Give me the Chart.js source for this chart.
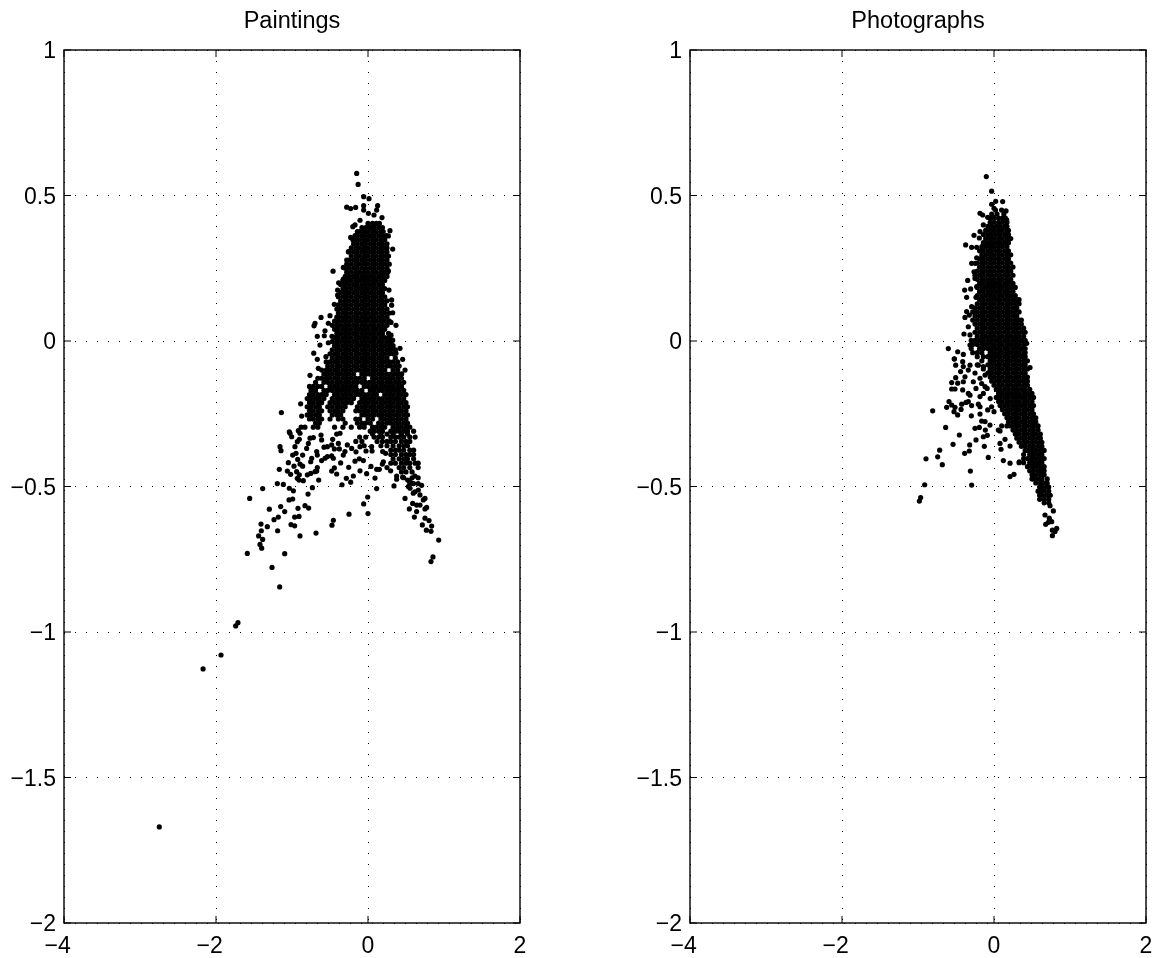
<!DOCTYPE html>
<html>

<head>
    <title>Paintings and Photographs</title>
    <meta charset="utf-8">
    <script src="https://cdnjs.cloudflare.com/ajax/libs/Chart.js/4.4.1/chart.umd.js"></script>
    <style>
        html, body { margin: 0; background: #fff; overflow: hidden; }
        canvas { position: absolute; top: 0; }
        #paintings { left: 0; }
        #photographs { left: 626px; }
    </style>
</head>

<body>
    <canvas id="paintings" width="579" height="958"></canvas>
    <canvas id="photographs" width="572" height="958"></canvas>
</body>
<script>
    const xTicks = ['\u22124  ', '\u22122  ', '0', '2'];
    const yTicks = ['\u22122', '\u22121.5', '\u22121', '\u22120.5', '0', '0.5', '1'];

    // paintings: the solid part, read row by row
    const paintingsCoreY = [0.404, 0.39, 0.376, 0.362, 0.348, 0.334, 0.32, 0.306, 0.292, 0.278, 0.264, 0.25, 0.236, 0.222, 0.208, 0.194, 0.18, 0.166, 0.152, 0.138, 0.124, 0.11, 0.096, 0.082, 0.068, 0.054, 0.04, 0.026, 0.012, -0.002, -0.016, -0.03, -0.044, -0.058, -0.072, -0.086, -0.1, -0.114, -0.128, -0.142, -0.156, -0.17, -0.184, -0.198, -0.212, -0.226, -0.24, -0.254, -0.268, -0.282, -0.296, -0.31, -0.32, -0.33, -0.345, -0.36, -0.375, -0.39, -0.405, -0.42, -0.435, -0.45, -0.47, -0.49];
    const paintingsCoreX = [
        [0, 0.06, 0.11, 0.15],
        [-0.08, -0.03, 0.03, 0.08, 0.14, 0.19],
        [-0.14, -0.11, -0.05, 0, 0.06, 0.11, 0.17, 0.2],
        [-0.17, -0.14, -0.08, -0.03, 0.03, 0.08, 0.14, 0.19, 0.24],
        [-0.2, -0.16, -0.11, -0.05, 0, 0.06, 0.11, 0.17, 0.22],
        [-0.19, -0.14, -0.08, -0.03, 0.03, 0.08, 0.14, 0.19, 0.25],
        [-0.22, -0.16, -0.11, -0.05, 0, 0.06, 0.11, 0.17, 0.22, 0.25],
        [-0.25, -0.19, -0.14, -0.08, -0.03, 0.03, 0.08, 0.14, 0.19, 0.25],
        [-0.22, -0.16, -0.11, -0.05, 0, 0.06, 0.11, 0.17, 0.22, 0.27],
        [-0.25, -0.19, -0.14, -0.08, -0.03, 0.03, 0.08, 0.14, 0.19, 0.25],
        [-0.28, -0.22, -0.16, -0.11, -0.05, 0, 0.06, 0.11, 0.17, 0.22, 0.28],
        [-0.3, -0.25, -0.19, -0.14, -0.08, -0.03, 0.03, 0.08, 0.14, 0.19, 0.25],
        [-0.28, -0.22, -0.16, -0.11, -0.05, 0, 0.06, 0.11, 0.17, 0.22, 0.26],
        [-0.3, -0.25, -0.19, -0.14, -0.08, -0.03, 0.03, 0.08, 0.14, 0.19, 0.25],
        [-0.33, -0.28, -0.22, -0.16, -0.11, -0.05, 0, 0.06, 0.11, 0.17, 0.22],
        [-0.36, -0.3, -0.25, -0.19, -0.14, -0.08, -0.03, 0.03, 0.08, 0.14, 0.19],
        [-0.33, -0.28, -0.22, -0.16, -0.11, -0.05, 0, 0.06, 0.11, 0.17, 0.22],
        [-0.36, -0.3, -0.25, -0.19, -0.14, -0.08, -0.03, 0.03, 0.08, 0.14, 0.19],
        [-0.39, -0.33, -0.28, -0.22, -0.16, -0.11, -0.05, 0, 0.06, 0.11, 0.17, 0.22],
        [-0.36, -0.3, -0.25, -0.19, -0.14, -0.08, -0.03, 0.03, 0.08, 0.14, 0.19, 0.25],
        [-0.39, -0.33, -0.28, -0.22, -0.16, -0.11, -0.05, 0, 0.06, 0.11, 0.17, 0.22],
        [-0.41, -0.36, -0.3, -0.25, -0.19, -0.14, -0.08, -0.03, 0.03, 0.08, 0.14, 0.19, 0.25],
        [-0.39, -0.33, -0.28, -0.22, -0.16, -0.11, -0.05, 0, 0.06, 0.11, 0.17, 0.22, 0.28],
        [-0.41, -0.36, -0.3, -0.25, -0.19, -0.14, -0.08, -0.03, 0.03, 0.08, 0.14, 0.19, 0.25],
        [-0.44, -0.39, -0.33, -0.28, -0.22, -0.16, -0.11, -0.05, 0, 0.06, 0.11, 0.17, 0.22, 0.28],
        [-0.47, -0.41, -0.36, -0.3, -0.25, -0.19, -0.14, -0.08, -0.03, 0.03, 0.08, 0.14, 0.19, 0.25],
        [-0.44, -0.39, -0.33, -0.28, -0.22, -0.16, -0.11, -0.05, 0, 0.06, 0.11, 0.17, 0.22],
        [-0.41, -0.36, -0.3, -0.25, -0.19, -0.14, -0.08, -0.03, 0.03, 0.08, 0.14, 0.19, 0.27],
        [-0.44, -0.39, -0.33, -0.28, -0.22, -0.16, -0.11, -0.05, 0, 0.06, 0.11, 0.17, 0.22, 0.28],
        [-0.47, -0.41, -0.36, -0.3, -0.25, -0.19, -0.14, -0.08, -0.03, 0.03, 0.08, 0.14, 0.19, 0.25, 0.3],
        [-0.44, -0.39, -0.33, -0.28, -0.22, -0.16, -0.11, -0.05, 0, 0.06, 0.11, 0.17, 0.22, 0.28, 0.33],
        [-0.47, -0.41, -0.36, -0.3, -0.25, -0.19, -0.14, -0.08, -0.03, 0.03, 0.08, 0.14, 0.19, 0.25, 0.3, 0.36],
        [-0.5, -0.44, -0.39, -0.33, -0.28, -0.22, -0.16, -0.11, -0.05, 0, 0.06, 0.11, 0.17, 0.22, 0.28, 0.33],
        [-0.47, -0.41, -0.36, -0.3, -0.25, -0.19, -0.14, -0.08, -0.03, 0.03, 0.08, 0.14, 0.19, 0.25, 0.36],
        [-0.55, -0.5, -0.44, -0.39, -0.33, -0.28, -0.22, -0.16, -0.11, -0.05, 0, 0.06, 0.11, 0.17, 0.22, 0.28, 0.33, 0.39],
        [-0.53, -0.47, -0.41, -0.36, -0.3, -0.25, -0.19, -0.14, -0.08, -0.03, 0.03, 0.08, 0.14, 0.19, 0.25, 0.3, 0.36, 0.41],
        [-0.61, -0.55, -0.5, -0.44, -0.39, -0.33, -0.28, -0.22, -0.16, -0.11, -0.05, 0, 0.06, 0.11, 0.17, 0.22, 0.33, 0.39],
        [-0.58, -0.53, -0.47, -0.41, -0.36, -0.3, -0.25, -0.19, -0.08, -0.03, 0.03, 0.08, 0.14, 0.19, 0.25, 0.3, 0.36, 0.41],
        [-0.66, -0.61, -0.55, -0.5, -0.44, -0.39, -0.33, -0.28, -0.22, -0.16, -0.11, -0.05, 0.06, 0.11, 0.17, 0.22, 0.28, 0.33, 0.39, 0.44],
        [-0.69, -0.58, -0.53, -0.47, -0.41, -0.36, -0.3, -0.25, -0.19, -0.14, -0.08, -0.03, 0.03, 0.08, 0.14, 0.19, 0.25, 0.3, 0.36, 0.41, 0.47],
        [-0.77, -0.72, -0.66, -0.61, -0.5, -0.44, -0.39, -0.33, -0.28, -0.22, -0.16, -0.05, 0, 0.06, 0.11, 0.17, 0.22, 0.28, 0.33, 0.39, 0.44],
        [-0.75, -0.69, -0.58, -0.53, -0.47, -0.41, -0.36, -0.3, -0.25, -0.19, -0.14, -0.08, 0.03, 0.08, 0.14, 0.19, 0.25, 0.3, 0.36, 0.41, 0.47],
        [-0.77, -0.72, -0.66, -0.61, -0.55, -0.44, -0.39, -0.33, -0.28, -0.22, -0.16, -0.11, -0.05, 0, 0.06, 0.11, 0.22, 0.28, 0.33, 0.39, 0.44, 0.5],
        [-0.8, -0.75, -0.69, -0.64, -0.58, -0.47, -0.41, -0.36, -0.3, -0.25, -0.19, -0.08, -0.03, 0.03, 0.08, 0.14, 0.19, 0.25, 0.3, 0.36, 0.41, 0.47],
        [-0.77, -0.72, -0.66, -0.61, -0.5, -0.44, -0.39, -0.33, -0.28, -0.22, -0.11, -0.05, 0, 0.06, 0.11, 0.17, 0.22, 0.28, 0.33, 0.39, 0.44, 0.5],
        [-0.8, -0.75, -0.69, -0.64, -0.53, -0.47, -0.41, -0.36, -0.3, -0.14, -0.08, -0.03, 0.03, 0.08, 0.14, 0.19, 0.25, 0.3, 0.36, 0.41, 0.47, 0.52],
        [-0.77, -0.72, -0.66, -0.61, -0.5, -0.44, -0.39, -0.33, -0.16, -0.11, -0.05, 0, 0.06, 0.11, 0.17, 0.22, 0.28, 0.33, 0.39, 0.44, 0.5],
        [-0.8, -0.75, -0.69, -0.64, -0.47, -0.41, -0.36, -0.08, -0.03, 0.03, 0.08, 0.14, 0.19, 0.25, 0.3, 0.36, 0.41, 0.47, 0.52],
        [-0.77, -0.72, -0.66, -0.61, -0.5, -0.39, -0.33, -0.16, -0.11, 0, 0.06, 0.17, 0.22, 0.28, 0.33, 0.39, 0.44, 0.5],
        [-0.69, -0.64, -0.3, -0.14, -0.08, -0.03, 0.03, 0.14, 0.19, 0.25, 0.3, 0.36, 0.41, 0.47, 0.52],
        [-0.88, -0.83, -0.72, -0.66, -0.44, -0.33, -0.22, -0.11, -0.05, 0.06, 0.11, 0.17, 0.22, 0.33, 0.39, 0.44, 0.5, 0.55],
        [0.03, 0.08, 0.14, 0.19, 0.3, 0.36, 0.41, 0.47, 0.52, 0.6],
        [0.06, 0.17, 0.25, 0.33, 0.44, 0.52],
        [-0.11, -0.03, 0.08, 0.14, 0.19, 0.3, 0.36, 0.41, 0.47, 0.55, 0.62],
        [-0.16, -0.08, 0.12, 0.19, 0.25, 0.3, 0.36, 0.44, 0.5, 0.55],
        [-0.05, 0.17, 0.25, 0.33, 0.41, 0.47, 0.52],
        [0.3, 0.36, 0.41, 0.47, 0.55, 0.6],
        [0.3, 0.36, 0.44, 0.5, 0.55, 0.6],
        [0.33, 0.41, 0.47, 0.52, 0.6],
        [0.3, 0.36, 0.44, 0.5, 0.55, 0.62, 0.66],
        [0.25, 0.41, 0.47, 0.55, 0.66],
        [0.44, 0.5, 0.58],
        [0.47, 0.58, 0.66],
        [0.55, 0.6, 0.66]
    ];

    // paintings: loose dots above and to the sides of the solid part
    const paintingsTopX = [-0.149, -0.13, -0.057, 0.013, -0.28, -0.228, -0.162, -0.057, -0.057, 0.127, 0.114, 0.005, 0.079, 0.184, -0.105, -0.171, -0.2, 0.289, -0.228, 0.268, 0.325, -0.259, -0.28, -0.325, -0.46, 0.268, 0.276, -0.325, -0.386, -0.4, -0.4, 0.311, 0.311, 0.325, -0.443, -0.618, -0.5, -0.697, -0.71, -0.522, 0.303, 0.368, -0.566, -0.667, -0.575, -0.474, 0.303, 0.325, -0.632, -0.522, -0.714, -0.667, -0.553, 0.421, 0.368, 0.456, 0.487, 0.443, -0.763, -0.654];
    const paintingsTopY = [0.576, 0.538, 0.496, 0.489, 0.46, 0.455, 0.459, 0.465, 0.45, 0.465, 0.45, 0.439, 0.433, 0.424, 0.415, 0.399, 0.393, 0.379, 0.356, 0.361, 0.316, 0.307, 0.278, 0.253, 0.24, 0.241, 0.175, 0.213, 0.2, 0.175, 0.158, 0.141, 0.123, 0.097, 0.126, 0.081, 0.087, 0.061, 0.052, 0.061, 0.064, 0.054, 0.035, 0.016, 0.018, 0.016, 0.02, 0.003, -0.014, -0.006, -0.042, -0.063, -0.054, -0.025, -0.042, -0.063, -0.1, -0.113, -0.118, -0.094];

    // paintings: loose dots under the solid part
    const paintingsTailX = [-1.14, -0.886, -0.873, -1.026, -1.035, -1.004, -0.917, -0.904, -0.895, -0.93, -0.961, -0.991, -0.947, -0.86, -0.925, -1.048, -0.974, -0.895, -0.86, -1.167, -1.061, -1.018, -0.939, -0.904, -0.93, -0.851, -0.908, -1.158, -1.145, -1.193, -1.114, -1.386, -1.035, -0.982, -1.557, -0.991, -1.039, -0.789, -0.732, -0.649, -1.298, -1.149, -1.096, -0.921, -0.829, -0.781, -1.237, -1.18, -1.408, -1.325, -1.404, -1.189, -1.439, -1.386, -1.421, -1.399, -1.588, -1.096, -1.263, -1.162, -0.965, -0.908, -1.013, -0.965, -0.895, -0.684, -0.456, -0.474, -0.25, 0, -0.057, -0.004, 0.114, 0.092, -0.018, -0.105, -0.193, -0.228, -0.285, -0.342, -0.412, -0.478, -0.443, -0.254, 0.039, 0.114, 0.149, -0.798, -0.754, -0.697, -0.667, -0.675, -0.754, -0.741, -0.675, -0.667, -0.61, -0.566, -0.535, -0.478, -0.456, -0.36, -0.171, -0.114, -0.061, -0.807, -0.785, -0.763, -0.719, -0.618, -0.61, -0.465, -0.412, -0.368, -0.579, -0.535, -0.478, -0.39, -0.443, -0.377, -0.272, -0.303, -0.325, -0.215, -0.158, -0.105, -0.026, 0.048, 0.053, 0.193, 0.232, 0.202, 0.189, 0.298, 0.377, 0.377, 0.342, 0.456, 0.522, 0.553, 0.618, 0.706, 0.487, 0.544, 0.61, 0.588, 0.64, 0.684, 0.728, 0.75, 0.772, 0.75, 0.64, 0.684, 0.618, 0.662, 0.531, 0.553, 0.575, 0.596, 0.75, 0.803, 0.715, 0.838, 0.768, 0.829, 0.93, 0.855, 0.829, -1.741, -1.711, -2.17, -1.934, -2.746];
    const paintingsTailY = [-0.246, -0.216, -0.258, -0.317, -0.312, -0.329, -0.308, -0.338, -0.317, -0.346, -0.363, -0.392, -0.386, -0.392, -0.407, -0.418, -0.43, -0.423, -0.43, -0.441, -0.447, -0.458, -0.449, -0.46, -0.472, -0.48, -0.478, -0.363, -0.377, -0.49, -0.493, -0.507, -0.506, -0.515, -0.541, -0.543, -0.546, -0.526, -0.504, -0.478, -0.578, -0.569, -0.586, -0.575, -0.566, -0.574, -0.614, -0.605, -0.629, -0.638, -0.652, -0.652, -0.67, -0.682, -0.699, -0.712, -0.73, -0.731, -0.778, -0.845, -0.605, -0.603, -0.631, -0.635, -0.67, -0.66, -0.616, -0.633, -0.595, -0.593, -0.56, -0.536, -0.507, -0.471, -0.456, -0.446, -0.464, -0.485, -0.472, -0.494, -0.457, -0.447, -0.436, -0.434, -0.431, -0.441, -0.441, -0.46, -0.455, -0.449, -0.435, -0.447, -0.415, -0.403, -0.38, -0.392, -0.411, -0.403, -0.397, -0.395, -0.403, -0.419, -0.413, -0.405, -0.411, -0.369, -0.352, -0.334, -0.332, -0.323, -0.34, -0.338, -0.32, -0.317, -0.365, -0.363, -0.357, -0.352, -0.371, -0.371, -0.357, -0.38, -0.392, -0.369, -0.381, -0.363, -0.378, -0.363, -0.378, -0.38, -0.386, -0.415, -0.423, -0.446, -0.464, -0.475, -0.498, -0.468, -0.478, -0.483, -0.464, -0.496, -0.541, -0.577, -0.605, -0.558, -0.564, -0.564, -0.546, -0.541, -0.572, -0.577, -0.586, -0.529, -0.518, -0.512, -0.5, -0.506, -0.489, -0.523, -0.609, -0.617, -0.632, -0.636, -0.65, -0.654, -0.684, -0.742, -0.758, -0.979, -0.968, -1.127, -1.079, -1.67];

    // photographs: the solid part, read row by row
    const photographsCoreY = [0.45, 0.436, 0.422, 0.408, 0.394, 0.38, 0.366, 0.352, 0.338, 0.324, 0.31, 0.296, 0.282, 0.268, 0.254, 0.24, 0.226, 0.212, 0.198, 0.184, 0.17, 0.156, 0.142, 0.128, 0.114, 0.1, 0.086, 0.072, 0.058, 0.044, 0.03, 0.016, 0.002, -0.012, -0.026, -0.04, -0.054, -0.068, -0.082, -0.096, -0.11, -0.124, -0.138, -0.152, -0.166, -0.18, -0.194, -0.208, -0.222, -0.236, -0.25, -0.264, -0.278, -0.292, -0.306, -0.32, -0.334, -0.348, -0.362, -0.376, -0.39, -0.404, -0.418, -0.432, -0.446, -0.46, -0.474, -0.488, -0.502, -0.516, -0.53, -0.544, -0.556];
    const photographsCoreX = [
        [0.02, 0.1],
        [-0.03, 0.04, 0.13],
        [-0.05, 0, 0.06, 0.11, 0.15],
        [-0.05, 0, 0.06, 0.11, 0.17],
        [-0.08, -0.03, 0.03, 0.08, 0.14, 0.17],
        [-0.11, -0.05, 0, 0.06, 0.11, 0.17, 0.19],
        [-0.14, -0.08, -0.03, 0.03, 0.08, 0.14, 0.19],
        [-0.11, -0.05, 0, 0.06, 0.11, 0.17, 0.22],
        [-0.14, -0.08, -0.03, 0.03, 0.08, 0.14, 0.19],
        [-0.16, -0.11, -0.05, 0, 0.06, 0.11, 0.17],
        [-0.19, -0.14, -0.08, -0.03, 0.03, 0.08, 0.14, 0.19],
        [-0.16, -0.11, -0.05, 0, 0.06, 0.11, 0.17, 0.22],
        [-0.19, -0.14, -0.08, -0.03, 0.03, 0.08, 0.14, 0.19],
        [-0.22, -0.16, -0.11, -0.05, 0, 0.06, 0.11, 0.17, 0.22],
        [-0.19, -0.14, -0.08, -0.03, 0.03, 0.08, 0.14, 0.19, 0.25],
        [-0.22, -0.16, -0.11, -0.05, 0, 0.06, 0.11, 0.17, 0.22],
        [-0.25, -0.19, -0.14, -0.08, -0.03, 0.03, 0.08, 0.14, 0.19, 0.25],
        [-0.22, -0.16, -0.11, -0.05, 0, 0.06, 0.11, 0.17, 0.22],
        [-0.19, -0.14, -0.08, -0.03, 0.03, 0.08, 0.14, 0.19, 0.25],
        [-0.22, -0.16, -0.11, -0.05, 0, 0.06, 0.11, 0.17, 0.22, 0.28],
        [-0.19, -0.14, -0.08, -0.03, 0.03, 0.08, 0.14, 0.19, 0.25],
        [-0.22, -0.16, -0.11, -0.05, 0, 0.06, 0.11, 0.17, 0.22, 0.28],
        [-0.19, -0.14, -0.08, -0.03, 0.03, 0.08, 0.14, 0.19, 0.25, 0.3, 0.33],
        [-0.22, -0.16, -0.11, -0.05, 0, 0.06, 0.11, 0.17, 0.22, 0.28, 0.33],
        [-0.25, -0.19, -0.14, -0.08, -0.03, 0.03, 0.08, 0.14, 0.19, 0.25, 0.3],
        [-0.28, -0.22, -0.16, -0.11, -0.05, 0, 0.06, 0.11, 0.17, 0.22, 0.28, 0.33],
        [-0.25, -0.19, -0.14, -0.08, -0.03, 0.03, 0.08, 0.14, 0.19, 0.25, 0.3],
        [-0.28, -0.22, -0.16, -0.11, -0.05, 0, 0.06, 0.11, 0.17, 0.22, 0.28, 0.33, 0.36],
        [-0.25, -0.19, -0.14, -0.08, -0.03, 0.03, 0.08, 0.14, 0.19, 0.25, 0.3, 0.36],
        [-0.22, -0.16, -0.11, -0.05, 0, 0.06, 0.11, 0.17, 0.22, 0.28, 0.33, 0.39],
        [-0.25, -0.19, -0.14, -0.08, -0.03, 0.03, 0.08, 0.14, 0.19, 0.25, 0.3, 0.36, 0.41],
        [-0.22, -0.16, -0.11, -0.05, 0, 0.06, 0.11, 0.17, 0.22, 0.28, 0.33, 0.39],
        [-0.3, -0.25, -0.19, -0.14, -0.08, -0.03, 0.03, 0.08, 0.14, 0.19, 0.25, 0.3, 0.36, 0.41],
        [-0.28, -0.22, -0.16, -0.11, -0.05, 0, 0.06, 0.11, 0.17, 0.22, 0.28, 0.33, 0.39],
        [-0.3, -0.19, -0.14, -0.08, -0.03, 0.03, 0.08, 0.14, 0.19, 0.25, 0.3, 0.36, 0.41],
        [-0.28, -0.22, -0.16, -0.05, 0, 0.06, 0.11, 0.17, 0.22, 0.28, 0.33, 0.39, 0.41],
        [-0.22, -0.14, -0.08, -0.03, 0.03, 0.08, 0.14, 0.19, 0.25, 0.3, 0.36, 0.41],
        [-0.16, -0.05, 0, 0.06, 0.11, 0.17, 0.22, 0.28, 0.33, 0.39, 0.44],
        [-0.22, -0.08, -0.03, 0.03, 0.08, 0.14, 0.19, 0.25, 0.3, 0.36, 0.41],
        [-0.14, -0.05, 0, 0.06, 0.11, 0.17, 0.22, 0.28, 0.33, 0.39, 0.44],
        [-0.08, -0.03, 0.03, 0.08, 0.14, 0.19, 0.25, 0.3, 0.36, 0.41],
        [-0.05, 0, 0.06, 0.11, 0.17, 0.22, 0.28, 0.33, 0.39, 0.44],
        [-0.03, 0.03, 0.08, 0.14, 0.19, 0.25, 0.3, 0.36, 0.41, 0.44],
        [0, 0.06, 0.11, 0.17, 0.22, 0.28, 0.33, 0.39, 0.44],
        [0.03, 0.08, 0.14, 0.19, 0.25, 0.3, 0.36, 0.41, 0.47],
        [0.06, 0.11, 0.17, 0.22, 0.28, 0.33, 0.39, 0.44, 0.5],
        [0.03, 0.08, 0.14, 0.19, 0.25, 0.3, 0.36, 0.41, 0.47, 0.52],
        [0.06, 0.11, 0.17, 0.22, 0.28, 0.33, 0.39, 0.44, 0.5],
        [0.08, 0.14, 0.19, 0.25, 0.3, 0.36, 0.41, 0.47, 0.52],
        [0.11, 0.17, 0.22, 0.28, 0.33, 0.39, 0.44, 0.5],
        [0.14, 0.19, 0.25, 0.3, 0.36, 0.41, 0.47, 0.52],
        [0.17, 0.22, 0.28, 0.33, 0.39, 0.44, 0.5, 0.55],
        [0.19, 0.25, 0.3, 0.36, 0.41, 0.47, 0.52, 0.55],
        [0.17, 0.22, 0.28, 0.33, 0.39, 0.44, 0.5, 0.55, 0.58],
        [0.25, 0.3, 0.36, 0.41, 0.47, 0.52, 0.58],
        [0.28, 0.33, 0.39, 0.44, 0.5, 0.55, 0.61],
        [0.3, 0.36, 0.41, 0.47, 0.52, 0.58, 0.61],
        [0.33, 0.39, 0.44, 0.5, 0.55, 0.61, 0.63],
        [0.36, 0.41, 0.47, 0.52, 0.58, 0.63],
        [0.41, 0.44, 0.5, 0.55, 0.61, 0.66],
        [0.39, 0.47, 0.52, 0.58, 0.63],
        [0.39, 0.44, 0.5, 0.55, 0.61, 0.66],
        [0.33, 0.39, 0.47, 0.52, 0.58, 0.63],
        [0.44, 0.5, 0.55, 0.61, 0.66],
        [0.47, 0.52, 0.58, 0.63, 0.66],
        [0.5, 0.55, 0.61, 0.66],
        [0.5, 0.52, 0.58, 0.63, 0.7],
        [0.55, 0.61, 0.66, 0.7],
        [0.6, 0.63, 0.69, 0.72],
        [0.58, 0.61, 0.66, 0.72],
        [0.6, 0.63, 0.69, 0.74],
        [0.6, 0.66, 0.72],
        [0.66, 0.72]
    ];

    // photographs: loose dots on the left of the solid part
    const photographsTopX = [-0.101, -0.031, 0.022, 0.114, -0.031, 0, 0.158, -0.184, -0.149, -0.083, 0.167, -0.14, -0.184, -0.263, -0.193, -0.373, -0.294, -0.228, -0.228, -0.294, -0.246, -0.263, -0.346, -0.25, -0.307, -0.386, -0.228, -0.36, -0.237, -0.294, -0.36, -0.382, -0.325, -0.338, -0.395, -0.316, -0.601, -0.478, -0.404, -0.522, -0.316, 0.43];
    const photographsTopY = [0.565, 0.515, 0.48, 0.479, 0.47, 0.456, 0.447, 0.439, 0.433, 0.425, 0.416, 0.399, 0.376, 0.363, 0.354, 0.33, 0.322, 0.322, 0.286, 0.267, 0.267, 0.238, 0.208, 0.215, 0.179, 0.175, 0.187, 0.15, 0.15, 0.118, 0.101, 0.081, 0.089, 0.049, 0.024, 0.021, -0.026, -0.037, -0.046, -0.061, -0.014, -0.008];

    // photographs: loose dots under the solid part
    const photographsTailX = [0.737, 0.781, 0.671, 0.728, 0.759, 0.68, 0.715, 0.825, 0.803, 0.768, 0.768, -0.807, -0.623, -0.592, -0.557, -0.513, -0.526, -0.478, -0.434, -0.425, -0.368, -0.338, -0.294, -0.298, -0.206, -0.184, -0.184, -0.083, -0.031, 0, -0.162, -0.118, -0.053, -0.636, -0.456, -0.25, -0.193, -0.114, -0.14, -0.088, -0.237, -0.32, -0.325, -0.386, -0.539, -0.715, -0.741, -0.895, -0.68, -0.127, -0.075, -0.311, -0.294, -0.912, -0.965, -0.982, 0.123, 0.211, 0.211, 0.263, 0.333, 0.079, 0.092, 0.145, 0.057, 0.079, 0.101, 0.211, -0.557, -0.478, -0.404, -0.557, -0.513, -0.412, -0.338, -0.316, -0.504, -0.522, -0.504, -0.412, -0.439, -0.382, -0.272, -0.237, -0.162, -0.118, -0.14, -0.184, -0.404, -0.338, -0.316, -0.25, -0.184, -0.118, -0.053, -0.206, -0.14, 0.474, -0.09, -0.05];
    const photographsTailY = [-0.566, -0.584, -0.598, -0.609, -0.621, -0.63, -0.623, -0.644, -0.655, -0.65, -0.669, -0.24, -0.228, -0.208, -0.22, -0.228, -0.243, -0.254, -0.235, -0.217, -0.211, -0.208, -0.222, -0.257, -0.217, -0.226, -0.251, -0.237, -0.226, -0.243, -0.275, -0.277, -0.289, -0.297, -0.323, -0.3, -0.297, -0.306, -0.329, -0.324, -0.34, -0.357, -0.378, -0.386, -0.355, -0.375, -0.398, -0.405, -0.425, -0.362, -0.4, -0.447, -0.495, -0.494, -0.538, -0.55, -0.411, -0.42, -0.466, -0.458, -0.415, -0.352, -0.372, -0.338, -0.306, -0.309, -0.292, -0.361, -0.143, -0.145, -0.14, -0.165, -0.165, -0.168, -0.18, -0.186, -0.126, -0.062, -0.083, -0.071, -0.105, -0.123, -0.14, -0.163, -0.146, -0.157, -0.18, -0.191, -0.088, -0.1, -0.083, -0.11, -0.128, -0.117, -0.105, -0.083, -0.088, -0.091, -0.163, -0.198];

    function pairs(rowsY, rowsX, looseGroups) {
        var points = [];
        rowsY.forEach(function (y, i) {
            rowsX[i].forEach(function (x) { points.push({ x: x, y: y }); });
        });
        looseGroups.forEach(function (group) {
            group[0].forEach(function (x, i) { points.push({ x: x, y: group[1][i] }); });
        });
        return points;
    }

    // frame and the short inward ticks, all four sides like the original
    const framePlugin = {
        id: 'frame',
        afterDatasetsDraw(chart) {
            var a = chart.chartArea, c = chart.ctx;
            c.save();
            c.strokeStyle = '#000';
            c.lineWidth = 1.4;
            c.strokeRect(a.left, a.top, a.right - a.left, a.bottom - a.top);
            c.beginPath();
            chart.scales.x.ticks.forEach(function (t) {
                var px = chart.scales.x.getPixelForValue(t.value);
                c.moveTo(px, a.top); c.lineTo(px, a.top + 7);
                c.moveTo(px, a.bottom); c.lineTo(px, a.bottom - 7);
            });
            chart.scales.y.ticks.forEach(function (t) {
                var py = chart.scales.y.getPixelForValue(t.value);
                c.moveTo(a.left, py); c.lineTo(a.left + 7, py);
                c.moveTo(a.right, py); c.lineTo(a.right - 7, py);
            });
            c.lineWidth = 1;
            c.stroke();
            c.restore();
        }
    };

    function newchart(id, title, points, rightPadding) {
        var tickFont = { family: 'Liberation Sans', size: 23 };
        var grid = { color: '#000', lineWidth: 1, drawTicks: false, tickLength: 0 };
        var border = { display: false, dash: [1, 10] };
        return new Chart(id, {
            type: 'scatter',
            data: {
                datasets: [{
                    data: points,
                    backgroundColor: '#000',
                    borderWidth: 0,
                    pointRadius: 2.6
                }]
            },
            options: {
                responsive: false,
                animation: false,
                events: [],
                layout: { autoPadding: false, padding: { right: rightPadding } },
                plugins: {
                    legend: { display: false },
                    tooltip: { enabled: false },
                    title: {
                        display: true,
                        text: title,
                        fullSize: false,
                        color: '#000',
                        font: { family: 'Liberation Sans', size: 23.5, weight: 'normal', lineHeight: 1.2 },
                        padding: { top: 7, bottom: 14.8 }
                    }
                },
                scales: {
                    x: {
                        type: 'linear', min: -4, max: 2,
                        grid: grid, border: border,
                        ticks: {
                            stepSize: 2, padding: 10, color: '#000', font: tickFont, maxRotation: 0,
                            callback: function (v, i) { return xTicks[i]; }
                        },
                        afterFit: function (scale) { scale.height = 35; }
                    },
                    y: {
                        type: 'linear', min: -2, max: 1,
                        grid: grid, border: border,
                        ticks: {
                            stepSize: 0.5, padding: 8, labelOffset: 2, color: '#000', font: tickFont,
                            callback: function (v, i) { return yTicks[i]; }
                        },
                        afterFit: function (scale) { scale.width = 64; }
                    }
                }
            },
            plugins: [framePlugin]
        });
    }

    newchart('paintings', 'Paintings', pairs(paintingsCoreY, paintingsCoreX, [[paintingsTopX, paintingsTopY], [paintingsTailX, paintingsTailY]]), 59);
    newchart('photographs', 'Photographs', pairs(photographsCoreY, photographsCoreX, [[photographsTopX, photographsTopY], [photographsTailX, photographsTailY]]), 52);
</script>
</html>
